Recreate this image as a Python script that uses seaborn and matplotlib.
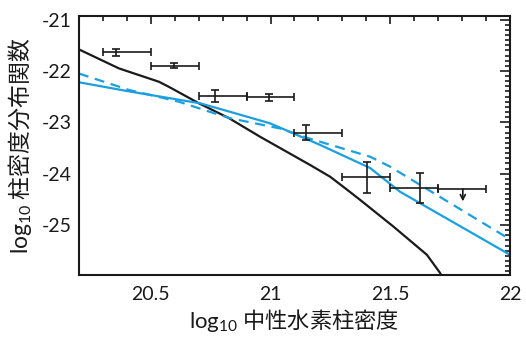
import numpy as np
import pandas as pd
import matplotlib
matplotlib.use("Agg")
import matplotlib.pyplot as plt
import seaborn as sns
from matplotlib.ticker import MultipleLocator

sns.set_style("white")
plt.rcParams['font.family'] = ['Lato', 'Noto Sans CJK JP', 'DejaVu Sans']
plt.rcParams['mathtext.fontset'] = 'custom'
plt.rcParams['mathtext.rm'] = 'Noto Sans CJK JP'
plt.rcParams['mathtext.it'] = 'Noto Sans CJK JP'
plt.rcParams['mathtext.sf'] = 'Lato'

# --- data ---
# measured points with bin widths
pt_x = [20.353, 20.596, 20.768, 20.994, 21.150, 21.402, 21.625]
pt_xlo = [20.30, 20.50, 20.70, 20.90, 21.10, 21.30, 21.50]
pt_xhi = [20.50, 20.70, 20.90, 21.10, 21.30, 21.50, 21.70]
pt_y = [-21.64, -21.90, -22.49, -22.51, -23.20, -24.07, -24.28]
pt_yerr = [0.06, 0.05, 0.11, 0.07, 0.15, 0.30, 0.29]

# upper limit
ul_x = [21.803]
ul_xlo = [21.70]
ul_xhi = [21.90]
ul_y = [-24.30]
ul_tip = [-24.54]

# black model curve
blk_x = [20.20, 20.367, 20.534, 20.576, 20.701, 20.827, 20.956, 21.165, 21.249,
         21.319, 21.374, 21.513, 21.653, 21.709, 21.72]
blk_y = [-21.58, -21.95, -22.21, -22.31, -22.63, -22.92, -23.28, -23.83, -24.06,
         -24.31, -24.51, -25.03, -25.58, -25.94, -26.05]

# blue solid model
bs_x = [20.20, 20.40, 20.706, 20.827, 20.998, 21.207, 21.416, 21.54, 22.00]
bs_y = [-22.22, -22.39, -22.63, -22.79, -23.02, -23.44, -23.89, -24.35, -25.58]

# blue dashed model
bd_x = [20.20, 20.409, 20.618, 20.756, 20.831, 21.04, 21.165, 21.416, 21.498, 22.00]
bd_y = [-22.05, -22.37, -22.60, -22.81, -22.92, -23.12, -23.32, -23.67, -23.86, -25.28]

xlabel = r"$\mathsf{log}_{\mathsf{10}}$ 中性水素柱密度"
ylabel = r"$\mathsf{log}_{\mathsf{10}}$ 柱密度分布関数"

blue = "#1aa0e0"
black = "#1a1a1a"

fig = plt.figure(figsize=(5.26, 3.37), dpi=100)
ax = fig.add_axes([0.150, 0.183, 0.8196, 0.7695])

sns.lineplot(x=blk_x, y=blk_y, ax=ax, color=black, lw=1.6, sort=False, estimator=None)
sns.lineplot(x=bs_x, y=bs_y, ax=ax, color=blue, lw=1.6, sort=False, estimator=None)
sns.lineplot(x=bd_x, y=bd_y, ax=ax, color=blue, lw=1.6, sort=False, estimator=None,
             dashes=False, linestyle=(0, (4.5, 3)))

xerr = [np.array(pt_x) - np.array(pt_xlo), np.array(pt_xhi) - np.array(pt_x)]
ax.errorbar(pt_x, pt_y, xerr=xerr, yerr=pt_yerr, fmt='none', ecolor=black,
            elinewidth=1.2, capsize=2.8, capthick=1.2)
ul_xerr = [np.array(ul_x) - np.array(ul_xlo), np.array(ul_xhi) - np.array(ul_x)]
ax.errorbar(ul_x, ul_y, xerr=ul_xerr, fmt='none', ecolor=black,
            elinewidth=1.2, capsize=2.8, capthick=1.2)
for xx, yy, tt in zip(ul_x, ul_y, ul_tip):
    ax.annotate("", xy=(xx, tt), xytext=(xx, yy),
                arrowprops=dict(arrowstyle="->", color=black, lw=1.2,
                                shrinkA=0, shrinkB=0, mutation_scale=9))

ax.set_xlim(20.2, 22.0)
ax.set_ylim(-25.98, -20.93)
ax.set_xticks([20.5, 21.0, 21.5, 22.0])
ax.set_xticklabels(["20.5", "21", "21.5", "22"])
ax.set_yticks([-21, -22, -23, -24, -25])
ax.set_yticklabels(["-21", "-22", "-23", "-24", "-25"])
ax.xaxis.set_minor_locator(MultipleLocator(0.1))
ax.yaxis.set_minor_locator(MultipleLocator(0.1))
ax.tick_params(which='both', direction='in', top=True, right=True, color=black,
               width=1.2, labelsize=14, labelcolor=black)
ax.tick_params(axis='x', which='major', length=6, pad=8)
ax.tick_params(axis='y', which='major', length=7, pad=5)
ax.tick_params(which='minor', length=3.5)
for s in ax.spines.values():
    s.set_linewidth(1.5)
    s.set_color(black)
    s.set_visible(True)

ax.set_xlabel(xlabel, fontsize=16, color=black, labelpad=2.5,
              family=['Noto Sans CJK JP', 'DejaVu Sans'])
ax.set_ylabel(ylabel, fontsize=16.5, color=black, labelpad=6,
              family=['Noto Sans CJK JP', 'DejaVu Sans'])

fig.savefig("out.png", dpi=100)
